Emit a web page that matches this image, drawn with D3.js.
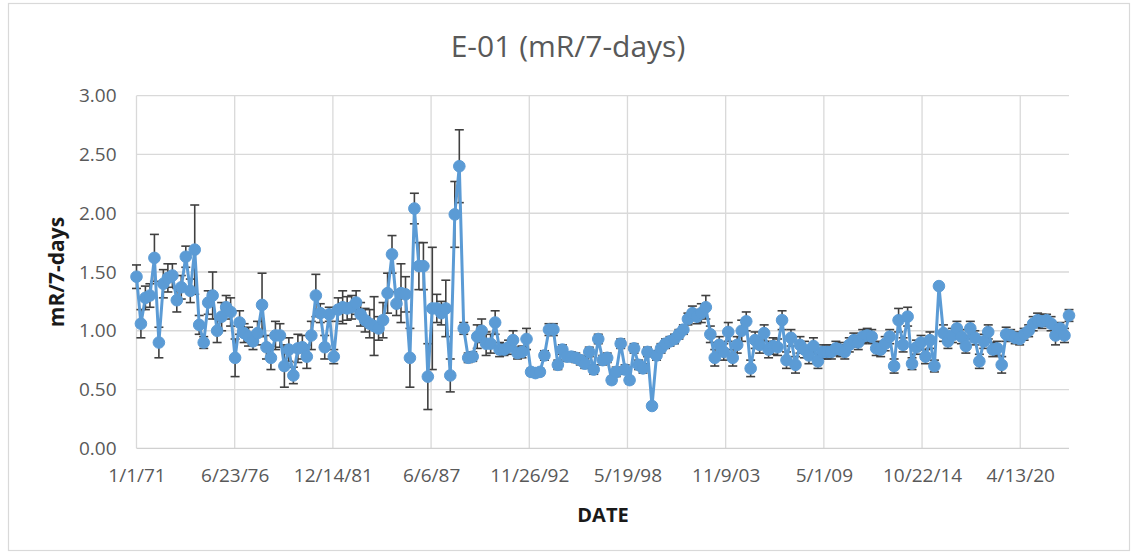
<!DOCTYPE html>
<html>
<head>
<meta charset="utf-8">
<script src="https://cdn.jsdelivr.net/npm/d3@7"></script>
<style>
  html, body { margin: 0; padding: 0; background: #ffffff; }
  svg { display: block; }
</style>
</head>
<body>
<script>
// ---------- DATA ----------
const chartTitle = "E-01 (mR/7-days)";
const yAxisTitle = "mR/7-days";
const xAxisTitle = "DATE";
const firstSample = "1971-01-01";   // quarterly samples from this date
const xTickLabels = ["1/1/71", "6/23/76", "12/14/81", "6/6/87", "11/26/92", "5/19/98", "11/9/03", "5/1/09", "10/22/14", "4/13/20"];
const yTicks = [0, 0.5, 1.0, 1.5, 2.0, 2.5, 3.0];

const values = [
  1.46, 1.06, 1.28, 1.30, 1.62, 0.90, 1.40, 1.45, 1.47, 1.26,
  1.37, 1.63, 1.34, 1.69, 1.05, 0.90, 1.24, 1.30, 1.00, 1.12,
  1.20, 1.16, 0.77, 1.07, 0.98, 0.95, 0.91, 0.98, 1.22, 0.86,
  0.77, 0.96, 0.96, 0.70, 0.84, 0.62, 0.85, 0.86, 0.78, 0.96,
  1.30, 1.15, 0.86, 1.14, 0.78, 1.18, 1.20, 1.19, 1.20, 1.24,
  1.14, 1.09, 1.06, 1.04, 1.02, 1.09, 1.32, 1.65, 1.23, 1.32,
  1.31, 0.77, 2.04, 1.55, 1.55, 0.61, 1.19, 1.19, 1.15, 1.19,
  0.62, 1.99, 2.40, 1.02, 0.77, 0.78, 0.95, 1.00, 0.89, 0.89,
  1.07, 0.84, 0.84, 0.86, 0.92, 0.81, 0.82, 0.93, 0.65, 0.64,
  0.65, 0.79, 1.01, 1.01, 0.71, 0.84, 0.78, 0.78, 0.77, 0.75,
  0.72, 0.82, 0.67, 0.93, 0.75, 0.77, 0.58, 0.65, 0.89, 0.67,
  0.58, 0.85, 0.71, 0.68, 0.82, 0.36, 0.79, 0.85, 0.89, 0.91,
  0.93, 0.97, 1.01, 1.10, 1.15, 1.12, 1.15, 1.20, 0.97, 0.77,
  0.88, 0.82, 0.99, 0.77, 0.88, 1.00, 1.08, 0.68, 0.92, 0.88,
  0.98, 0.84, 0.87, 0.86, 1.09, 0.75, 0.94, 0.71, 0.88, 0.84,
  0.79, 0.87, 0.74, 0.82, 0.82, 0.82, 0.85, 0.84, 0.82, 0.88,
  0.92, 0.90, 0.95, 0.96, 0.95, 0.85, 0.84, 0.89, 0.95, 0.70,
  1.09, 0.88, 1.12, 0.72, 0.86, 0.90, 0.78, 0.92, 0.70, 1.38,
  0.98, 0.91, 0.96, 1.02, 0.95, 0.87, 1.02, 0.94, 0.74, 0.91,
  0.99, 0.84, 0.85, 0.71, 0.97, 0.96, 0.94, 0.93, 0.97, 1.00,
  1.06, 1.09, 1.08, 1.09, 1.06, 0.96, 1.02, 0.96, 1.13
];

const errors = [
  0.10, 0.12, 0.10, 0.10, 0.20, 0.13, 0.12, 0.12, 0.10, 0.10,
  0.10, 0.09, 0.10, 0.38, 0.08, 0.05, 0.10, 0.20, 0.10, 0.12,
  0.10, 0.12, 0.16, 0.10, 0.08, 0.08, 0.07, 0.10, 0.27, 0.10,
  0.10, 0.12, 0.10, 0.18, 0.10, 0.07, 0.12, 0.10, 0.10, 0.12,
  0.18, 0.08, 0.10, 0.06, 0.06, 0.10, 0.14, 0.10, 0.10, 0.10,
  0.10, 0.10, 0.12, 0.25, 0.10, 0.15, 0.17, 0.16, 0.10, 0.25,
  0.15, 0.25, 0.13, 0.20, 0.20, 0.28, 0.52, 0.12, 0.10, 0.24,
  0.14, 0.28, 0.31, 0.05, 0.04, 0.04, 0.10, 0.10, 0.10, 0.08,
  0.10, 0.06, 0.05, 0.06, 0.08, 0.05, 0.05, 0.09, 0.03, 0.03,
  0.03, 0.04, 0.05, 0.05, 0.04, 0.04, 0.04, 0.04, 0.04, 0.04,
  0.04, 0.04, 0.04, 0.04, 0.04, 0.04, 0.03, 0.04, 0.04, 0.04,
  0.03, 0.04, 0.04, 0.04, 0.04, 0.02, 0.04, 0.04, 0.04, 0.04,
  0.04, 0.04, 0.04, 0.05, 0.06, 0.06, 0.08, 0.10, 0.07, 0.07,
  0.07, 0.07, 0.08, 0.07, 0.07, 0.09, 0.08, 0.07, 0.07, 0.07,
  0.07, 0.07, 0.07, 0.07, 0.08, 0.07, 0.07, 0.07, 0.07, 0.07,
  0.07, 0.07, 0.06, 0.06, 0.06, 0.06, 0.06, 0.06, 0.06, 0.06,
  0.06, 0.06, 0.06, 0.06, 0.06, 0.06, 0.06, 0.06, 0.06, 0.06,
  0.10, 0.06, 0.08, 0.05, 0.06, 0.06, 0.06, 0.07, 0.05, 0.02,
  0.07, 0.06, 0.06, 0.06, 0.06, 0.06, 0.06, 0.06, 0.06, 0.06,
  0.06, 0.06, 0.06, 0.07, 0.06, 0.05, 0.05, 0.05, 0.05, 0.05,
  0.06, 0.06, 0.06, 0.05, 0.06, 0.08, 0.05, 0.06, 0.05
];

// ---------- LAYOUT ----------
const W = 1137, H = 556;
const plot = { left: 136.5, right: 1069, top: 95.7, bottom: 448.3 };

const start = d3.timeParse("%Y-%m-%d")(firstSample);
const data = values.map((v, i) => ({
  date: d3.timeMonth.offset(start, i * 3),
  v: v,
  e: errors[i]
}));
const tickDates = xTickLabels.map(s => {
  const p = s.split("/");
  const yy = +p[2];
  return new Date(yy < 50 ? 2000 + yy : 1900 + yy, +p[0] - 1, +p[1]);
});

const x = d3.scaleTime()
  .domain([start, data[data.length - 1].date])
  .range([plot.left, plot.right]);
const y = d3.scaleLinear().domain([0, 3]).range([plot.bottom, plot.top]);

const svg = d3.select("body").append("svg").attr("width", W).attr("height", H);

// chart border
svg.append("rect")
  .attr("x", 8.5).attr("y", 3.5).attr("width", 1121).attr("height", 547)
  .attr("fill", "#fff").attr("stroke", "#d9d9d9").attr("stroke-width", 1.2);

// gridlines
const grid = svg.append("g");
grid.selectAll("line.h").data(yTicks.filter(t => t > 0)).join("line")
  .attr("x1", plot.left).attr("x2", plot.right)
  .attr("y1", d => y(d)).attr("y2", d => y(d))
  .attr("stroke", "#d9d9d9").attr("stroke-width", 1.3);
grid.selectAll("line.v").data(tickDates).join("line")
  .attr("x1", d => x(d)).attr("x2", d => x(d))
  .attr("y1", plot.top).attr("y2", plot.bottom)
  .attr("stroke", "#d9d9d9").attr("stroke-width", 1.3);
// base axis line
svg.append("line")
  .attr("x1", plot.left).attr("x2", plot.right)
  .attr("y1", y(0)).attr("y2", y(0))
  .attr("stroke", "#d0d0d0").attr("stroke-width", 1.3);

// axes via d3
const yAxis = d3.axisLeft(y).tickValues(yTicks).tickFormat(d3.format(".2f")).tickSize(0).tickPadding(20);
const gy = svg.append("g").attr("transform", `translate(${plot.left},0)`).call(yAxis);
gy.select(".domain").remove();
gy.selectAll("text")
  .attr("font-family", "'Open Sans', sans-serif").attr("font-size", "19px").attr("fill", "#595959");

const xAxis = d3.axisBottom(x).tickValues(tickDates).tickFormat((d, i) => xTickLabels[i]).tickSize(0).tickPadding(20);
const gx = svg.append("g").attr("transform", `translate(0,${plot.bottom})`).call(xAxis);
gx.select(".domain").remove();
gx.selectAll("text")
  .attr("font-family", "'Open Sans', sans-serif").attr("font-size", "19px").attr("fill", "#595959");

// error bars
const eb = svg.append("g").attr("stroke", "#404040").attr("stroke-width", 1.6);
const capW = 4.5;
data.forEach(d => {
  const cx = x(d.date);
  const y1 = y(d.v + d.e), y2 = y(d.v - d.e);
  eb.append("line").attr("x1", cx).attr("x2", cx).attr("y1", y1).attr("y2", y2);
  eb.append("line").attr("x1", cx - capW).attr("x2", cx + capW).attr("y1", y1).attr("y2", y1);
  eb.append("line").attr("x1", cx - capW).attr("x2", cx + capW).attr("y1", y2).attr("y2", y2);
});

// line
const line = d3.line().x(d => x(d.date)).y(d => y(d.v));
svg.append("path").datum(data)
  .attr("d", line).attr("fill", "none")
  .attr("stroke", "#5b9bd5").attr("stroke-width", 3).attr("stroke-linejoin", "round");

// markers
svg.append("g").selectAll("circle").data(data).join("circle")
  .attr("cx", d => x(d.date)).attr("cy", d => y(d.v)).attr("r", 5.8)
  .attr("fill", "#5b9bd5").attr("stroke", "#5b9bd5").attr("stroke-width", 1);

// title
svg.append("text")
  .attr("x", 568).attr("y", 57).attr("text-anchor", "middle")
  .attr("font-family", "'Open Sans', sans-serif").attr("font-size", "30px").attr("fill", "#595959")
  .text(chartTitle);

// axis titles
svg.append("text")
  .attr("x", 603).attr("y", 522).attr("text-anchor", "middle")
  .attr("font-family", "'Open Sans', sans-serif").attr("font-weight", "bold").attr("font-size", "20px").attr("fill", "#1a1a1a")
  .text(xAxisTitle);
svg.append("text")
  .attr("transform", `translate(64,${(plot.top + plot.bottom) / 2}) rotate(-90)`)
  .attr("text-anchor", "middle")
  .attr("font-family", "'Open Sans', sans-serif").attr("font-weight", "bold").attr("font-size", "21px").attr("fill", "#1a1a1a")
  .text(yAxisTitle);
</script>
</body>
</html>
